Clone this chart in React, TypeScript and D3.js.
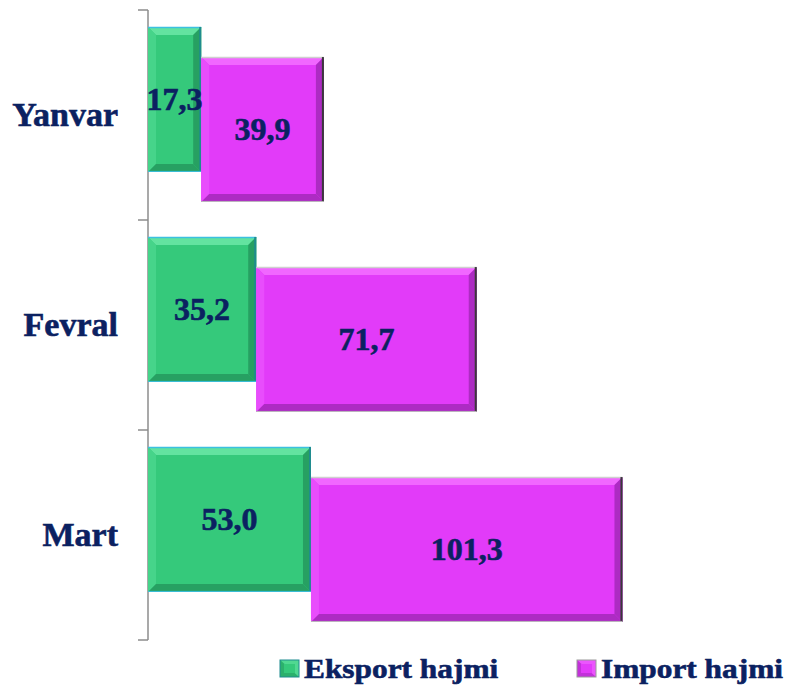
import { useEffect, useRef } from "react";
import * as d3 from "d3";

const months = ["Yanvar", "Fevral", "Mart"];
const eksport = [17.3, 35.2, 53.0];
const importVals = [39.9, 71.7, 101.3];
const seriesNames = ["Eksport hajmi", "Import hajmi"];

const NAVY = "#0b2161";
const FONT = "'Liberation Serif', 'Times New Roman', serif";

const GREEN = { base: "#35c97b", light: "#63e3a0", side: "#46d48a", dark: "#27a062", edge: "#1f8c8f" };
const PINK = { base: "#e23bf9", light: "#f167ff", side: "#e84dfc", dark: "#ad2bc3", edge: "#3a3a3a" };

type Pal = typeof GREEN;

function bevel(g: d3.Selection<SVGGElement, unknown, null, undefined>, x: number, y: number, w: number, h: number, c: Pal) {
  const b = 8;
  const bar = g.append("g");
  bar.append("rect").attr("x", x).attr("y", y).attr("width", w).attr("height", h).attr("fill", c.base);
  const poly = (pts: number[][], fill: string) =>
    bar.append("polygon").attr("points", pts.map((p) => p.join(",")).join(" ")).attr("fill", fill);
  poly([[x, y], [x + w, y], [x + w - b, y + b], [x + b, y + b]], c.light);
  poly([[x, y], [x + b, y + b], [x + b, y + h - b], [x, y + h]], c.side);
  poly([[x + w, y], [x + w, y + h], [x + w - b, y + h - b], [x + w - b, y + b]], c.dark);
  poly([[x, y + h], [x + w, y + h], [x + w - b, y + h - b], [x + b, y + h - b]], c.dark);
  bar.append("line").attr("x1", x).attr("x2", x + w).attr("y1", y + 0.5).attr("y2", y + 0.5)
    .attr("stroke", c === GREEN ? "#3cc0e0" : "#cfcfcf").attr("stroke-width", 1.5);
  bar.append("line").attr("x1", x + w - 1).attr("x2", x + w - 1).attr("y1", y).attr("y2", y + h)
    .attr("stroke", c.edge).attr("stroke-width", 2);
  bar.append("line").attr("x1", x).attr("x2", x + w).attr("y1", y + h - 0.5).attr("y2", y + h - 0.5)
    .attr("stroke", c === GREEN ? "#3cc0e0" : "#bdbdbd").attr("stroke-width", 1);
}

export default function App() {
  const ref = useRef<SVGSVGElement>(null);

  useEffect(() => {
    const W = 787, H = 685;
    const svg = d3.select(ref.current!).attr("width", W).attr("height", H);
    svg.selectAll("*").remove();

    const x = d3.scaleLinear().domain([0, 160]).range([148, 640]);
    const y = d3.scaleBand<string>().domain(months).range([10, 640]).padding(0);
    const bw = y.bandwidth();
    const barH = bw * 0.69;

    // axis
    const ax = svg.append("g");
    ax.append("line").attr("x1", 148).attr("x2", 148).attr("y1", 10).attr("y2", 640)
      .attr("stroke", "#8c8c8c").attr("stroke-width", 1.5);
    const ticks = months.map((m) => y(m)!).concat([y(months[months.length - 1])! + bw]);
    ax.selectAll("line.tick").data(ticks).join("line").attr("class", "tick")
      .attr("x1", 138).attr("x2", 148).attr("y1", (d) => d).attr("y2", (d) => d)
      .attr("stroke", "#8c8c8c").attr("stroke-width", 1.5);

    const g = svg.append("g") as unknown as d3.Selection<SVGGElement, unknown, null, undefined>;
    const fmt = (v: number) => v.toFixed(1).replace(".", ",");
    const txt = (sel: d3.Selection<SVGTextElement, unknown, null, undefined>, size: number) =>
      sel.attr("font-family", FONT).attr("font-weight", "bold").attr("font-size", size)
        .attr("fill", NAVY).attr("stroke", NAVY).attr("stroke-width", 0.6);

    months.forEach((m, i) => {
      const top = y(m)!;
      const gy = top + bw * 0.081;
      const py = top + bw * 0.224;
      bevel(g, x(0), gy, x(eksport[i]) - x(0), barH, GREEN);
      bevel(g, x(eksport[i]), py, x(eksport[i] + importVals[i]) - x(eksport[i]), barH, PINK);

      txt(g.append("text").attr("x", (x(0) + x(eksport[i])) / 2).attr("y", gy + barH / 2)
        .attr("text-anchor", "middle").attr("dy", "0.33em"), 32).text(fmt(eksport[i]));
      txt(g.append("text").attr("x", (x(eksport[i]) + x(eksport[i] + importVals[i])) / 2).attr("y", py + barH / 2)
        .attr("text-anchor", "middle").attr("dy", "0.33em"), 32).text(fmt(importVals[i]));

      txt(svg.append("text").attr("x", 118).attr("y", top + bw / 2).attr("dy", "0.33em")
        .attr("text-anchor", "end") as any, 34).text(m);
    });

    // legend
    const legX = [280, 577];
    const pals = [GREEN, PINK];
    const leg = svg.append("g");
    seriesNames.forEach((name, i) => {
      const lx = legX[i];
      const c = pals[i];
      const sw = 19, sh = 17;
      const ly = 660;
      leg.append("rect").attr("x", lx).attr("y", ly).attr("width", sw).attr("height", sh).attr("fill", c.base);
      leg.append("polygon").attr("points", `${lx},${ly} ${lx + sw},${ly} ${lx + sw},${ly + sh}`).attr("fill", c.light).attr("opacity", 0.6);
      leg.append("polygon").attr("points", `${lx},${ly} ${lx},${ly + sh} ${lx + sw},${ly + sh}`).attr("fill", c.dark).attr("opacity", 0.6);
      leg.append("rect").attr("x", lx + 4).attr("y", ly + 4).attr("width", sw - 8).attr("height", sh - 8).attr("fill", c.base);
      leg.append("rect").attr("x", lx).attr("y", ly).attr("width", sw).attr("height", sh)
        .attr("fill", "none").attr("stroke", i === 0 ? "#1f8c8f" : "#9a9a9a").attr("stroke-width", 1);
      const tx = lx + 24;
      txt(leg.append("text").attr("x", 0).attr("y", 0)
        .attr("transform", `translate(${tx},678) scale(1.12,1)`) as any, 28).text(name);
    });
  }, []);

  return <svg ref={ref} style={{ position: "absolute", left: 0, top: 0, display: "block", background: "#fff" }} />;
}
